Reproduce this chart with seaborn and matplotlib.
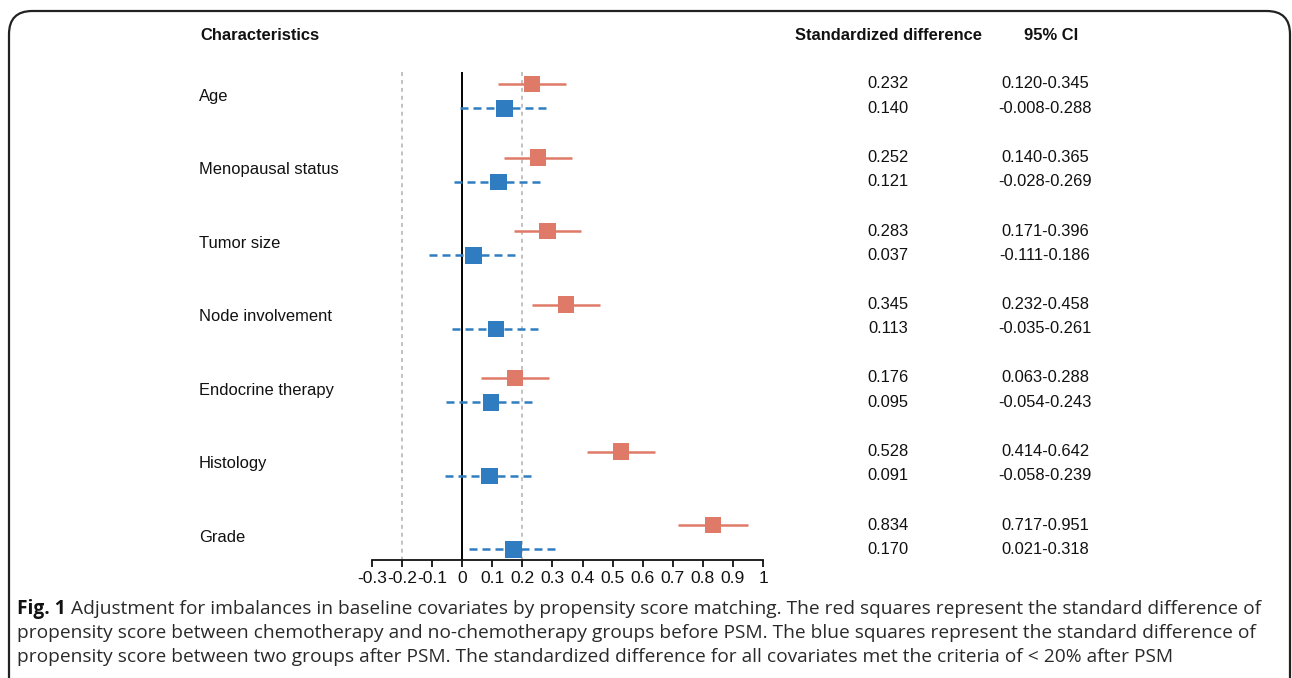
import matplotlib
matplotlib.use("Agg")
import matplotlib.pyplot as plt
import matplotlib.transforms as mtransforms
from matplotlib.patches import FancyBboxPatch
import seaborn as sns
import pandas as pd
import numpy as np

# ---------------- data ----------------
characteristics = ["Age", "Menopausal status", "Tumor size", "Node involvement",
                   "Endocrine therapy", "Histology", "Grade"]
before_est = [0.232, 0.252, 0.283, 0.345, 0.176, 0.528, 0.834]
before_lo = [0.120, 0.140, 0.171, 0.232, 0.063, 0.414, 0.717]
before_hi = [0.345, 0.365, 0.396, 0.458, 0.288, 0.642, 0.951]
after_est = [0.140, 0.121, 0.037, 0.113, 0.095, 0.091, 0.170]
after_lo = [-0.008, -0.028, -0.111, -0.035, -0.054, -0.058, 0.021]
after_hi = [0.288, 0.269, 0.186, 0.261, 0.243, 0.239, 0.318]
x_ticks = [-0.3, -0.2, -0.1, 0, 0.1, 0.2, 0.3, 0.4, 0.5, 0.6, 0.7, 0.8, 0.9, 1]
x_tick_labels = ["-0.3", "-0.2", "-0.1", "0", "0.1", "0.2", "0.3", "0.4", "0.5",
                 "0.6", "0.7", "0.8", "0.9", "1"]
caption_lines = [
    "Adjustment for imbalances in baseline covariates by propensity score matching. The red squares represent the standard difference of",
    "propensity score between chemotherapy and no-chemotherapy groups before PSM. The blue squares represent the standard difference of",
    "propensity score between two groups after PSM. The standardized difference for all covariates met the criteria of < 20% after PSM",
]

RED = "#E07A68"
BLUE = "#2F7DC0"
OFFSET = 0.333  # vertical offset of the after-PSM row within a group

rows = []
for i, c in enumerate(characteristics):
    rows.append(dict(char=c, group="before", y=i, est=before_est[i], lo=before_lo[i], hi=before_hi[i]))
    rows.append(dict(char=c, group="after", y=i + OFFSET, est=after_est[i], lo=after_lo[i], hi=after_hi[i]))
df = pd.DataFrame(rows)

sns.set_theme(style="white")
plt.rcParams["font.family"] = ["Liberation Sans", "DejaVu Sans"]

W, H = 1292, 678
fig = plt.figure(figsize=(W / 100, H / 100), dpi=100)
fig.patch.set_facecolor("white")

# frame around the figure
frame = FancyBboxPatch((9 / W, -0.05), (1290 - 9) / W, (H - 11) / H + 0.05,
                       boxstyle="round,pad=0,rounding_size=0.018",
                       transform=fig.transFigure, fill=False, edgecolor="#222222",
                       linewidth=1.6, mutation_aspect=W / H)
fig.patches.append(frame)

ax_left, ax_right = 372 / W, 763 / W
ax_top, ax_bot = 1 - 60 / H, 1 - 560 / H
ax = fig.add_axes([ax_left, ax_bot, ax_right - ax_left, ax_top - ax_bot])
ax.set_facecolor("none")

ytop = (60 - 84) / 73.5
ybot = (560 - 84) / 73.5
vline_top = (72 - 84) / 73.5

# reference lines
ax.vlines([-0.2, 0.2], vline_top, ybot, colors="#BDBDBD", linestyles=(0, (2.2, 2.2)), linewidth=1.3, zorder=1)
ax.vlines([0], vline_top, ybot, colors="black", linewidth=1.4, zorder=1)

# confidence intervals
b = df[df.group == "before"]
a = df[df.group == "after"]
ax.hlines(b.y, b.lo, b.hi, colors=RED, linewidth=1.8, zorder=2)
ax.hlines(a.y, a.lo, a.hi, colors=BLUE, linewidth=1.8, linestyles=(0, (3.2, 2.0)), zorder=2)

sns.scatterplot(data=df, x="est", y="y", hue="group", palette={"before": RED, "after": BLUE},
                marker="s", s=140, edgecolor="none", legend=False, ax=ax, zorder=3)

ax.set_xlim(-0.3, 1)
ax.set_ylim(ybot, ytop)
ax.set_xlabel("")
ax.set_ylabel("")
ax.set_yticks([])
ax.set_xticks(x_ticks)
ax.set_xticklabels(x_tick_labels, fontsize=12.6, color="#111111")
for s in ["top", "right", "left"]:
    ax.spines[s].set_visible(False)
ax.spines["bottom"].set_color("#111111")
ax.spines["bottom"].set_linewidth(1.3)
ax.tick_params(axis="x", direction="out", length=5, width=1.3, color="#111111", pad=3, bottom=True)

# text columns
TS = 11.9
tr = mtransforms.blended_transform_factory(fig.transFigure, ax.transData)
fig.text(200 / W, 1 - 35 / H, "Characteristics", fontsize=TS, fontweight="bold", va="center", ha="left", color="#111111")
fig.text(888 / W, 1 - 35 / H, "Standardized difference", fontsize=TS, fontweight="bold", va="center", ha="center", color="#111111")
fig.text(1051 / W, 1 - 35 / H, "95% CI", fontsize=TS, fontweight="bold", va="center", ha="center", color="#111111")

for _, r in df.iterrows():
    ax.text(888 / W, r.y, f"{r.est:.3f}", transform=tr, fontsize=TS, ha="center", va="center", color="#111111")
    ax.text(1045 / W, r.y, f"{r.lo:.3f}-{r.hi:.3f}", transform=tr, fontsize=TS, ha="center", va="center", color="#111111")

for i, c in enumerate(characteristics):
    ax.text(199 / W, i + OFFSET / 2, c, transform=tr, fontsize=TS, ha="left", va="center", color="#111111")

# caption
cap_font = ["Open Sans", "DejaVu Sans"]
cap_size = 13.8
cap_color = "#2a2a2a"
ys = [609, 633, 657]
fig.canvas.draw()
renderer = fig.canvas.get_renderer()
tb = fig.text(17 / W, 1 - ys[0] / H, "Fig. 1", family=cap_font, fontsize=cap_size, fontweight="bold",
              va="center", ha="left", color="#111111")
ext = tb.get_window_extent(renderer=renderer)
x_after = (ext.x1 + 5) / W
fig.text(x_after, 1 - ys[0] / H, caption_lines[0], family=cap_font, fontsize=cap_size,
         va="center", ha="left", color=cap_color)
for line, yy in zip(caption_lines[1:], ys[1:]):
    fig.text(17 / W, 1 - yy / H, line, family=cap_font, fontsize=cap_size, va="center", ha="left", color=cap_color)

fig.savefig("out.png", dpi=100)
